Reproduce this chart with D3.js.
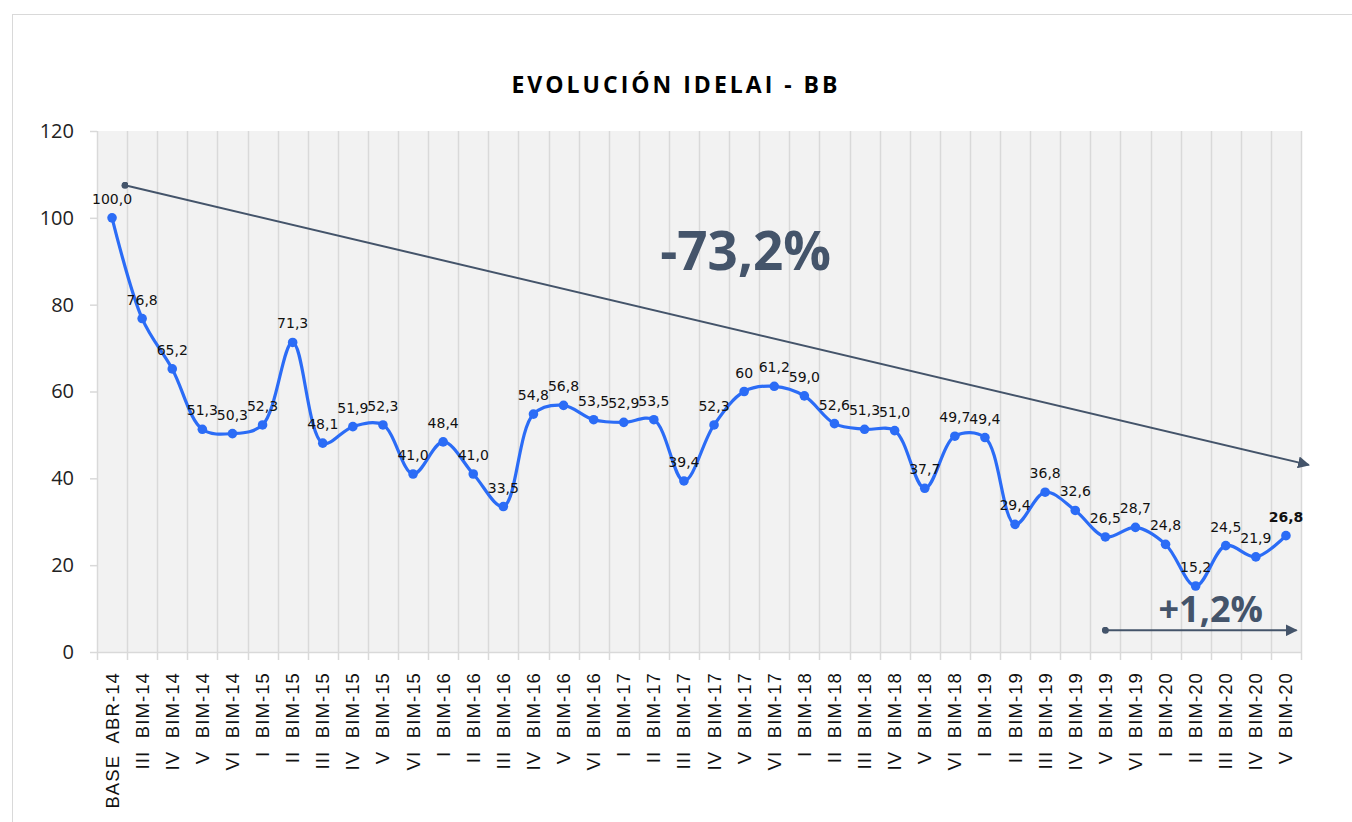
<!DOCTYPE html>
<html><head><meta charset="utf-8">
<script src="https://cdn.jsdelivr.net/npm/d3@7/dist/d3.min.js"></script>
<style>
html,body{margin:0;padding:0;background:#fff;}
svg{display:block;}
</style></head>
<body>
<svg id="chart" width="1352" height="822"></svg>
<script>
const title = "EVOLUCIÓN IDELAI - BB";
const categories = ["BASE  ABR-14","III  BIM-14","IV  BIM-14","V  BIM-14","VI  BIM-14","I  BIM-15","II  BIM-15","III  BIM-15","IV  BIM-15","V  BIM-15","VI  BIM-15","I  BIM-16","II  BIM-16","III  BIM-16","IV  BIM-16","V  BIM-16","VI  BIM-16","I  BIM-17","II  BIM-17","III  BIM-17","IV  BIM-17","V  BIM-17","VI  BIM-17","I  BIM-18","II  BIM-18","III  BIM-18","IV  BIM-18","V  BIM-18","VI  BIM-18","I  BIM-19","II  BIM-19","III  BIM-19","IV  BIM-19","V  BIM-19","VI  BIM-19","I  BIM-20","II  BIM-20","III  BIM-20","IV  BIM-20","V  BIM-20"];
const values = [100.0,76.8,65.2,51.3,50.3,52.3,71.3,48.1,51.9,52.3,41.0,48.4,41.0,33.5,54.8,56.8,53.5,52.9,53.5,39.4,52.3,60,61.2,59.0,52.6,51.3,51.0,37.7,49.7,49.4,29.4,36.8,32.6,26.5,28.7,24.8,15.2,24.5,21.9,26.8];
const valueLabels = ["100,0","76,8","65,2","51,3","50,3","52,3","71,3","48,1","51,9","52,3","41,0","48,4","41,0","33,5","54,8","56,8","53,5","52,9","53,5","39,4","52,3","60","61,2","59,0","52,6","51,3","51,0","37,7","49,7","49,4","29,4","36,8","32,6","26,5","28,7","24,8","15,2","24,5","21,9","26,8"];
const yTicks = [0,20,40,60,80,100,120];
// annotation arrows in data units: [categoryIndex, value]
const trendArrow = [[0.43,107.5],[39.76,43.1]];
const trendLabel = {text:"-73,2%", at:[21.05,88]};
const recentArrow = [[33.0,5],[39.35,5]];
const recentLabel = {text:"+1,2%", at:[36.5,6.8]};

const svg = d3.select("#chart");
const plot = {left:97, right:1301, top:131, bottom:652};
const slate = "#44546a", blue = "#2b6cf6", grid = "#d9d9d9";

// outer chart frame
svg.append("rect").attr("x",12.5).attr("y",14.5).attr("width",1500).attr("height",1000)
  .attr("fill","#fff").attr("stroke","#d9d9d9").attr("stroke-width",1);

const x = d3.scaleBand().domain(categories).range([plot.left, plot.right]).padding(0);
const xi = d3.scaleLinear().domain([0, categories.length-1])
  .range([x(categories[0]) + x.bandwidth()/2, x(categories[categories.length-1]) + x.bandwidth()/2]);
const y = d3.scaleLinear().domain([0,120]).range([plot.bottom, plot.top]);

// plot background
svg.append("rect").attr("x",plot.left).attr("y",plot.top)
  .attr("width",plot.right-plot.left).attr("height",plot.bottom-plot.top).attr("fill","#f2f2f2");

// vertical gridlines at category boundaries
const bounds = categories.map(c => x(c)).concat([plot.right]);
svg.append("g").selectAll("line").data(bounds).join("line")
  .attr("x1",d=>Math.round(d)+0.5).attr("x2",d=>Math.round(d)+0.5)
  .attr("y1",plot.top).attr("y2",plot.bottom+8)
  .attr("stroke",grid).attr("stroke-width",1.5);

// x axis line
svg.append("line").attr("x1",plot.left).attr("x2",plot.right).attr("y1",plot.bottom+0.5).attr("y2",plot.bottom+0.5)
  .attr("stroke",grid).attr("stroke-width",1.5);

// y axis
const yAxis = d3.axisLeft(y).tickValues(yTicks).tickSize(7).tickPadding(16).tickFormat(d3.format("d"));
const yg = svg.append("g").attr("transform",`translate(${plot.left},0)`).call(yAxis);
yg.select(".domain").remove();
yg.selectAll(".tick line").attr("stroke",grid).attr("stroke-width",1.5);
yg.selectAll(".tick text").attr("font-family","'Open Sans', sans-serif").attr("font-size",20).attr("fill","#222");

// x labels
svg.append("g").selectAll("text").data(categories).join("text")
  .attr("transform",d=>`translate(${x(d)+x.bandwidth()/2},672) rotate(-90)`)
  .attr("text-anchor","end").attr("dominant-baseline","central")
  .attr("font-family","'Liberation Sans', Arial, sans-serif").attr("font-size",18.5)
  .attr("letter-spacing","1.1px").attr("fill","#111")
  .attr("xml:space","preserve").style("white-space","pre")
  .text(d=>d);

// title
svg.append("text").attr("x",676).attr("y",93).attr("text-anchor","middle")
  .attr("font-family","'Open Sans', sans-serif").attr("font-weight","bold").attr("font-size",23)
  .attr("letter-spacing","3px").attr("fill","#000").text(title);

// arrow markers
const defs = svg.append("defs");
defs.append("marker").attr("id","arrow").attr("viewBox","0 0 10 10").attr("refX",9).attr("refY",5)
  .attr("markerWidth",6).attr("markerHeight",6).attr("orient","auto").attr("markerUnits","strokeWidth")
  .append("path").attr("d","M0,0 L10,5 L0,10 Z").attr("fill",slate);
defs.append("marker").attr("id","dot").attr("viewBox","0 0 10 10").attr("refX",5).attr("refY",5)
  .attr("markerWidth",3.5).attr("markerHeight",3.5).attr("markerUnits","strokeWidth")
  .append("circle").attr("cx",5).attr("cy",5).attr("r",5).attr("fill",slate);

function drawArrow(pts){
  svg.append("line")
    .attr("x1",xi(pts[0][0])).attr("y1",y(pts[0][1]))
    .attr("x2",xi(pts[1][0])).attr("y2",y(pts[1][1]))
    .attr("stroke",slate).attr("stroke-width",2)
    .attr("marker-start","url(#dot)").attr("marker-end","url(#arrow)");
}
drawArrow(trendArrow);
drawArrow(recentArrow);

svg.append("text").attr("x",xi(trendLabel.at[0])).attr("y",y(trendLabel.at[1])).attr("text-anchor","middle")
  .attr("font-family","'Open Sans', sans-serif").attr("font-weight","bold").attr("font-size",53)
  .attr("fill",slate).text(trendLabel.text);
svg.append("text").attr("x",xi(recentLabel.at[0])).attr("y",y(recentLabel.at[1])).attr("text-anchor","middle")
  .attr("font-family","'Open Sans', sans-serif").attr("font-weight","bold").attr("font-size",36)
  .attr("fill",slate).text(recentLabel.text);

// series line
const pts = values.map((v,i)=>[x(categories[i])+x.bandwidth()/2, y(v)]);
svg.append("path").datum(pts)
  .attr("d", d3.line().curve(d3.curveCatmullRom.alpha(0.5)))
  .attr("fill","none").attr("stroke",blue).attr("stroke-width",3.2);

svg.append("g").selectAll("circle").data(values).join("circle")
  .attr("cx",(d,i)=>x(categories[i])+x.bandwidth()/2).attr("cy",d=>y(d)).attr("r",4.8).attr("fill",blue);

// data labels
svg.append("g").selectAll("text").data(values).join("text")
  .attr("x",(d,i)=>x(categories[i])+x.bandwidth()/2).attr("y",d=>y(d)-14)
  .attr("text-anchor","middle")
  .attr("font-family","'DejaVu Sans', sans-serif").attr("font-size",14)
  .attr("font-weight",(d,i)=>i===values.length-1?"bold":"normal")
  .attr("fill","#111").text((d,i)=>valueLabels[i]);
</script>
</body></html>
